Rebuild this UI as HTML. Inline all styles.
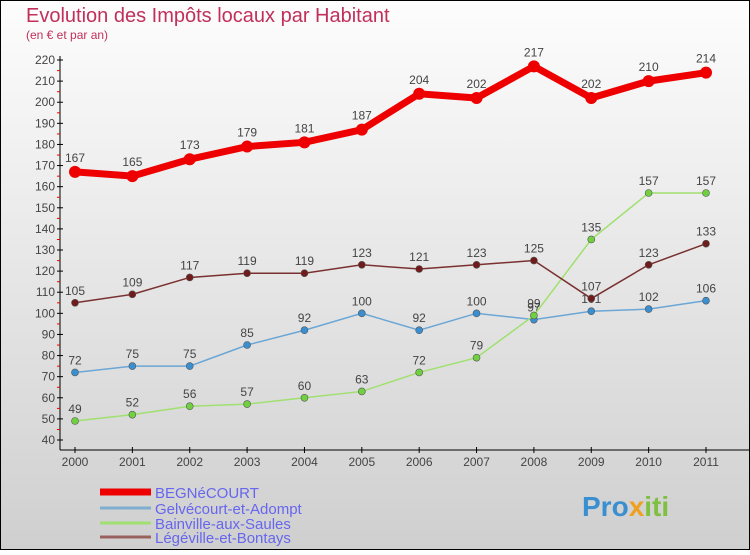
<!DOCTYPE html>
<html><head><meta charset="utf-8"><style>
html,body{margin:0;padding:0}
body{width:750px;height:550px;overflow:hidden;font-family:"Liberation Sans",sans-serif}
</style></head><body>
<svg id="chart" width="750" height="550" xmlns="http://www.w3.org/2000/svg">
<defs><linearGradient id="bg" x1="0" y1="0" x2="0" y2="1"><stop offset="0" stop-color="#fdfdfd"/><stop offset="1" stop-color="#cfcfcf"/></linearGradient></defs>
<rect x="0.5" y="0.5" width="749" height="549" fill="url(#bg)" stroke="#000"/>
<text x="26" y="22" font-size="20" fill="#c0305a">Evolution des Impôts locaux par Habitant</text>
<text x="26" y="39" font-size="12" fill="#c0305a">(en € et par an)</text>
<g id="axes"></g>
<g id="series"></g>
<g id="legend"></g>
<text x="582" y="516" font-size="28" font-weight="bold" fill="#3a8fd0">Pro<tspan fill="#f0a020">x</tspan><tspan fill="#80c040">iti</tspan></text>
</svg>
<script>
const years=[2000,2001,2002,2003,2004,2005,2006,2007,2008,2009,2010,2011];
const yTicks=[40,50,60,70,80,90,100,110,120,130,140,150,160,170,180,190,200,210,220];
const begnecourt=[167,165,173,179,181,187,204,202,217,202,210,214];
const gelvecourt=[72,75,75,85,92,100,92,100,97,101,102,106];
const bainville=[49,52,56,57,60,63,72,79,99,135,157,157];
const legeville=[105,109,117,119,119,123,121,123,125,107,123,133];
const names=["BEGNéCOURT","Gelvécourt-et-Adompt","Bainville-aux-Saules","Légéville-et-Bontays"];
const NS="http://www.w3.org/2000/svg";
const X=i=>75+i*(706-75)/11;
const Y=v=>440-(v-40)*(380/180);
function mk(tag,attrs,parent,txt){const e=document.createElementNS(NS,tag);for(const k in attrs)e.setAttribute(k,attrs[k]);if(txt!==undefined)e.textContent=txt;parent.appendChild(e);return e;}
const axes=document.getElementById('axes');
let a=mk('line',{x1:60,y1:56,x2:60,y2:450,stroke:'#000'},axes);

a=mk('line',{x1:60,y1:450,x2:750,y2:450,stroke:'#000'},axes);

yTicks.forEach(v=>{const y=Y(v);
 mk('line',{x1:57,y1:y,x2:63,y2:y,stroke:'#000'},axes);
 if(v<220)mk('line',{x1:57,y1:y-10.5,x2:60,y2:y-10.5,stroke:'#e00'},axes);
 const t=mk('text',{x:55,y:y+4,'font-size':12,'text-anchor':'end',fill:'#444'},axes,v);
 });
years.forEach((yr,i)=>{const x=X(i);
 mk('line',{x1:x,y1:447,x2:x,y2:453,stroke:'#000'},axes);
 const t=mk('text',{x:x,y:466,'font-size':12,'text-anchor':'middle',fill:'#444'},axes,yr);
 });
const ser=document.getElementById('series');
const defs=[[begnecourt,'#ee0000','#ee0000',7,6,'begnecourt'],[gelvecourt,'#6aa6d6','#3a8fd0',1.5,3.5,'gelvecourt'],[bainville,'#a0e070','#70d040',1.5,3.5,'bainville'],[legeville,'#7a3030','#701c1c',1.5,3.5,'legeville']];
defs.forEach(([d,lc,pc,w,r,n])=>{
 const g=mk('g',{},ser);
 const p=mk('polyline',{points:d.map((v,i)=>X(i)+','+Y(v)).join(' '),fill:'none',stroke:lc,'stroke-width':w},g);
 
 d.forEach((v,i)=>{const c=mk('circle',{cx:X(i),cy:Y(v),r:r,fill:pc,stroke:w>3?pc:'#555','stroke-width':w>3?0:0.6},g);
  
  const t=mk('text',{x:X(i),y:Y(v)-(w>3?10:8),'font-size':12,'text-anchor':'middle',fill:'#444'},g,v);
  });
});
const lg=document.getElementById('legend');
const lcols=['#ee0000','#80aed0','#a0e070','#9a6060'];const lw=[7,3,3,3];const ly=[492,508,523,537];
names.forEach((nm,i)=>{
 const r=mk('line',{x1:100,y1:ly[i],x2:151,y2:ly[i],stroke:lcols[i],'stroke-width':lw[i]},lg);
 
 const t=mk('text',{x:155,y:ly[i]+6,'font-size':15,fill:'#6666ee'},lg,nm);
 });
</script>
</body></html>
